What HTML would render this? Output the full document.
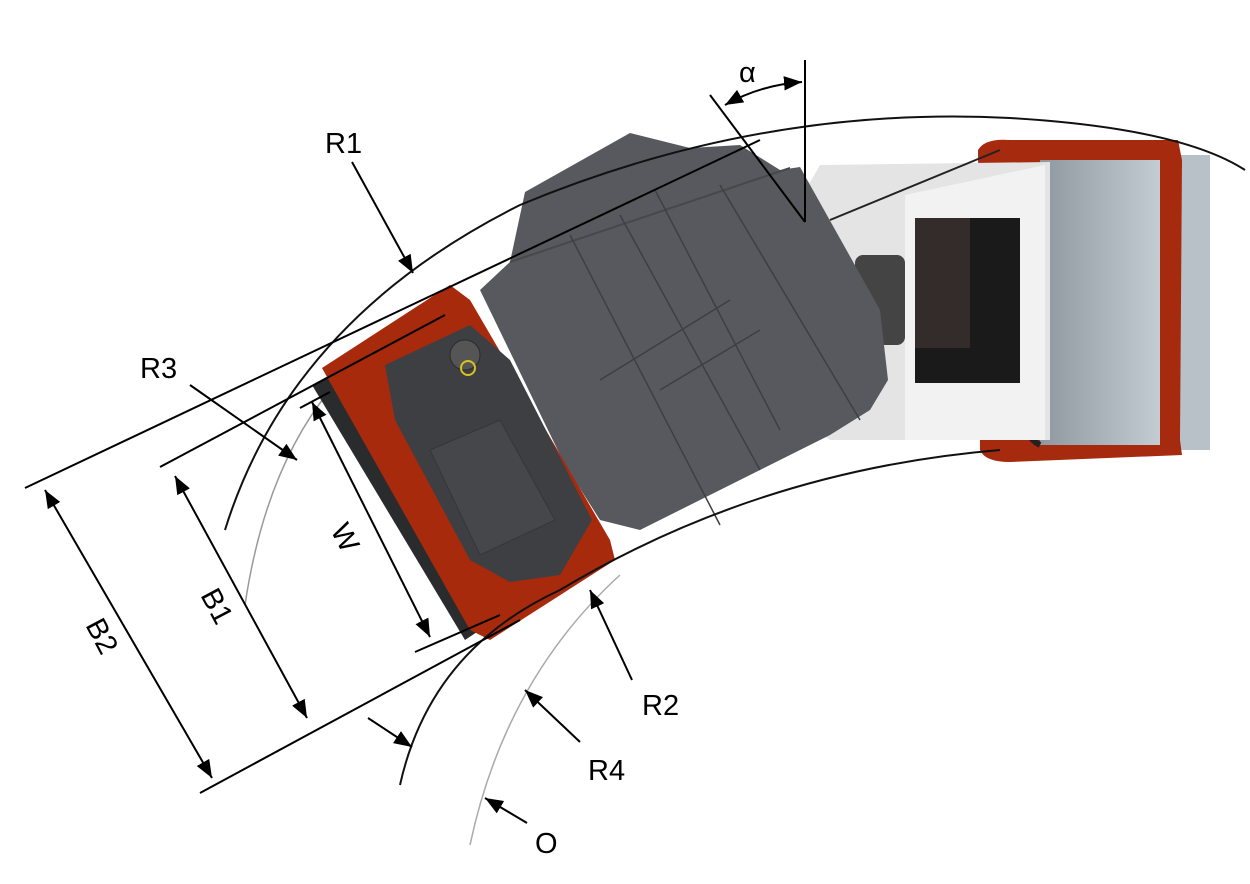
<!DOCTYPE html>
<html><head><meta charset="utf-8"><style>
html,body{margin:0;padding:0;background:#fff;}
svg{display:block;}
text{font-family:"Liberation Sans",sans-serif;font-size:29px;fill:#000;}
</style></head><body>
<svg width="1250" height="884" viewBox="0 0 1250 884" xmlns="http://www.w3.org/2000/svg">
<defs>
<linearGradient id="drum" x1="0" x2="1"><stop offset="0" stop-color="#8f979f"/><stop offset="1" stop-color="#c4ccd3"/></linearGradient>
<marker id="ah" viewBox="0 0 10 10" refX="10" refY="5" markerWidth="9" markerHeight="9" orient="auto-start-reverse"><path d="M0,1 L10,5 L0,9 Z" fill="#000"/></marker>
</defs>
<!-- faint background arcs -->
<path d="M470,845 Q505,680 620,575" fill="none" stroke="#aaa" stroke-width="1.5"/>
<path d="M245,605 Q265,470 330,390" fill="none" stroke="#999" stroke-width="1.5"/>
<!-- rear section -->
<rect x="1175" y="155" width="35" height="295" fill="#b9c1c8"/>
<path d="M978,150 Q985,138 1010,140 L1178,140 L1182,160 L1180,440 L1182,455 L1010,462 Q985,462 980,450 Z" fill="#a62a0d"/>
<rect x="1040" y="160" width="120" height="285" fill="url(#drum)"/>
<path d="M1040,165 Q1020,180 1025,220 L1025,400 Q1020,435 1040,445" fill="none" stroke="#222" stroke-width="6"/>
<path d="M820,165 L1050,162 L1050,440 L830,440 Q800,420 790,360 L800,200 Z" fill="#e4e4e4"/>
<path d="M905,195 L1045,165 L1045,440 L905,440 Z" fill="#f2f2f2"/>
<rect x="915" y="218" width="105" height="165" fill="#1a1a1a"/>
<rect x="915" y="218" width="55" height="130" fill="#332c2a"/>
<rect x="855" y="255" width="50" height="90" rx="8" fill="#444"/>
<!-- cabin -->
<path d="M480,290 L510,262 L525,192 L630,133 L690,148 L740,145 L780,170 L800,167 L880,310 L888,380 L870,410 L830,435 L640,530 L600,520 L565,465 Z" fill="#58595e"/>
<path d="M510,262 L790,168" stroke="#47484c" stroke-width="2"/>
<path d="M570,235 L720,525 M620,215 L760,470 M655,190 L780,430 M720,185 L860,420 M600,380 L730,300 M660,390 L760,330" stroke="#3e3f43" stroke-width="1.5" fill="none"/>
<!-- front red frame -->
<path d="M312,385 L330,375 L480,630 L465,640 Z" fill="#2a2b2d"/>
<path d="M322,368 L450,285 L470,300 L610,540 L615,560 L490,640 L470,630 L340,400 Z" fill="#a82a0c"/>
<path d="M385,365 L470,325 L510,360 L592,520 L560,575 L510,582 L470,560 L395,420 Z" fill="#3e3f43"/>
<path d="M430,450 L500,420 L555,520 L480,555 Z" fill="#46474b" stroke="#35363a"/>
<circle cx="465" cy="355" r="15" fill="#555" stroke="#2b2b2b"/>
<circle cx="468" cy="368" r="7" fill="none" stroke="#d9c320" stroke-width="2"/>
<!-- arcs -->
<path d="M225,530 Q290,320 520,205 Q760,105 1010,118 Q1180,128 1245,170" fill="none" stroke="#111" stroke-width="2"/>
<path d="M400,785 Q430,650 560,590 Q760,470 1000,450" fill="none" stroke="#111" stroke-width="2"/>
<!-- dimension baselines -->
<line x1="25" y1="488" x2="760" y2="140" stroke="#000" stroke-width="2"/>
<line x1="160" y1="467" x2="445" y2="315" stroke="#000" stroke-width="2"/>
<line x1="300" y1="408" x2="330" y2="392" stroke="#000" stroke-width="2"/>
<line x1="200" y1="793" x2="520" y2="620" stroke="#000" stroke-width="2"/>
<line x1="415" y1="652" x2="500" y2="615" stroke="#000" stroke-width="2"/>
<line x1="830" y1="220" x2="1000" y2="150" stroke="#222" stroke-width="2"/>
<!-- dimension arrows -->
<line x1="45" y1="490" x2="212" y2="778" stroke="#000" stroke-width="2" marker-start="url(#ah)" marker-end="url(#ah)"/>
<line x1="175" y1="476" x2="307" y2="718" stroke="#000" stroke-width="2" marker-start="url(#ah)" marker-end="url(#ah)"/>
<line x1="312" y1="402" x2="430" y2="637" stroke="#000" stroke-width="2" marker-start="url(#ah)" marker-end="url(#ah)"/>
<!-- leaders -->
<line x1="352" y1="162" x2="413" y2="273" stroke="#000" stroke-width="2" marker-end="url(#ah)"/>
<line x1="190" y1="385" x2="297" y2="460" stroke="#000" stroke-width="2" marker-end="url(#ah)"/>
<line x1="632" y1="680" x2="590" y2="590" stroke="#000" stroke-width="2" marker-end="url(#ah)"/>
<line x1="580" y1="742" x2="525" y2="690" stroke="#000" stroke-width="2" marker-end="url(#ah)"/>
<line x1="368" y1="718" x2="412" y2="747" stroke="#000" stroke-width="2" marker-end="url(#ah)"/>
<line x1="527" y1="823" x2="485" y2="798" stroke="#000" stroke-width="2" marker-end="url(#ah)"/>
<!-- alpha -->
<line x1="805" y1="60" x2="805" y2="222" stroke="#000" stroke-width="2"/>
<line x1="710" y1="95" x2="805" y2="222" stroke="#000" stroke-width="2"/>
<path d="M725,105 Q760,85 802,82" fill="none" stroke="#000" stroke-width="2" marker-start="url(#ah)" marker-end="url(#ah)"/>
<!-- labels -->
<text x="739" y="82">α</text>
<text x="325" y="153">R1</text>
<text x="140" y="378">R3</text>
<text x="642" y="715">R2</text>
<text x="588" y="780">R4</text>
<text x="535" y="853">O</text>
<text transform="translate(330,530) rotate(62)">W</text>
<text transform="translate(200,595) rotate(62)">B1</text>
<text transform="translate(85,625) rotate(62)">B2</text>
</svg>
</body></html>
